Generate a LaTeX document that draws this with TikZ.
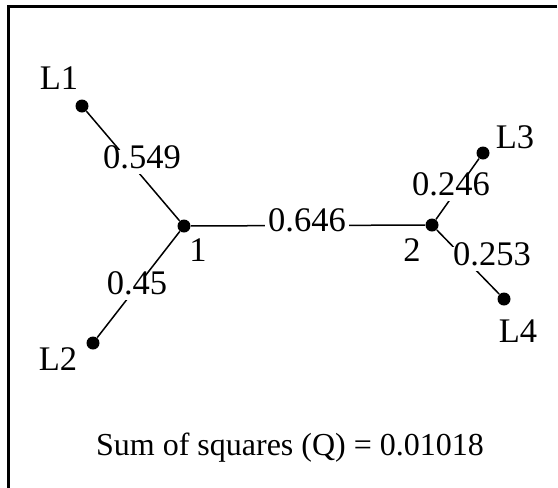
\documentclass[tikz,border=0pt]{standalone}
\usepackage{fontspec}
\setmainfont{Liberation Serif}

\begin{document}
\begin{tikzpicture}[x=0.5pt,y=-0.5pt,
  dot/.style={circle, fill=black, inner sep=0pt, minimum size=6.5pt},
  branch/.style={line width=0.75pt},
  wt/.style={fill=white, inner xsep=1.5pt, inner ysep=0.5pt,
             text height=0.85em, text depth=0.22em,
             font=\fontsize{17.25}{20}\selectfont},
  lbl/.style={inner sep=0pt, font=\fontsize{17.25}{20}\selectfont}]
\useasboundingbox (0,0) rectangle (558,488);
% Frame (only the top and left edges show)
\draw[line width=1.5pt] (557,6) -- (8.7,6) -- (8.7,488);
% Leaves and inner nodes
\node[dot] (l1) at (82,106) {};
\node[dot] (l2) at (93,343) {};
\node[dot] (n1) at (184,226) {};
\node[dot] (n2) at (432,225) {};
\node[dot] (l3) at (483,153) {};
\node[dot] (l4) at (504,299) {};
% Branches
\draw[branch] (l1) -- (n1);
\draw[branch] (l2) -- (n1);
\draw[branch] (n1) -- (n2);
\draw[branch] (n2) -- (l3);
\draw[branch] (n2) -- (l4);
% Branch lengths
\node[wt] (w1) at (142,162) {0.549};
\node[wt] (w2) at (137,288) {0.45};
\node[wt] (w12) at (307,225) {0.646};
\node[wt] (w3) at (451,189) {0.246};
\node[wt] (w4) at (492,259) {0.253};
% Node names
\node[lbl] (t1) at (59,78.5) {L1};
\node[lbl] (t2) at (58,359) {L2};
\node[lbl] (t3) at (515,137) {L3};
\node[lbl] (t4) at (518,331) {L4};
\node[lbl] (tn1) at (198,250) {1};
\node[lbl] (tn2) at (412,250) {2};
% Fit statistic
\node[anchor=base, inner sep=0pt, font=\fontsize{16}{19}\selectfont] (q)
  at (290,455) {Sum of squares (Q) = 0.01018};
\end{tikzpicture}
\end{document}
